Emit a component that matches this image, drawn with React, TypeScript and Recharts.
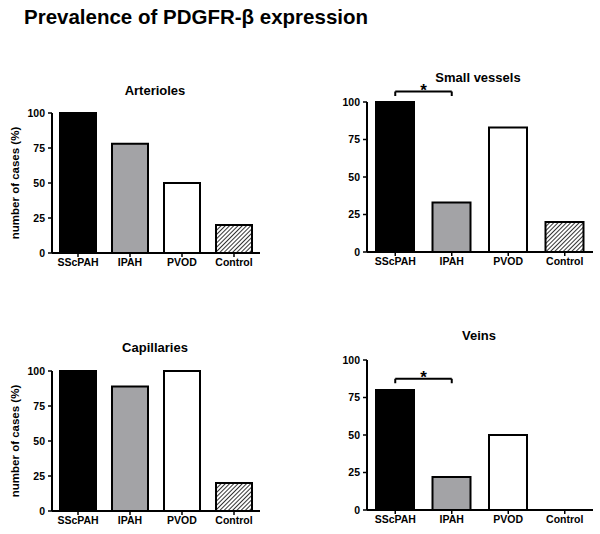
import { BarChart, Bar, Cell, XAxis, YAxis, ReferenceLine } from 'recharts'

// groups on the x axis
const groups = ['SScPAH', 'IPAH', 'PVOD', 'Control']
const yTicks = [0, 25, 50, 75, 100]

// % of cases per vessel type
const arterioles = [100, 78, 50, 20]
const smallVessels = [100, 33, 83, 20]
const capillaries = [100, 89, 100, 20]
const veins = [80, 22, 50, 0]

// significance brackets (SScPAH vs IPAH)
const smallVesselsBracket = { from: 'SScPAH', to: 'IPAH', y: 107, drop: 3 }
const veinsBracket = { from: 'SScPAH', to: 'IPAH', y: 87.5, drop: 3 }

const font = '"Liberation Sans", Arial, Helvetica, sans-serif'
const fills = ['#000000', '#a3a3a6', '#ffffff']

type Bracket = { from: string; to: string; y: number; drop: number }

type PanelProps = {
  id: string
  title: string
  values: number[]
  left: number
  top: number
  plotTop: number
  plotHeight: number
  axisWidth: number
  rightGap: number
  barSize: number
  titleX: number
  titleY: number
  yLabel?: boolean
  bracket?: Bracket
}

function Panel(p: PanelProps) {
  const width = 300
  const height = 216
  const data = groups.map((g, i) => ({ name: g, value: p.values[i] }))
  const xAxisHeight = height - p.plotTop - p.plotHeight
  const hatchId = 'hatch-' + p.id

  return (
    <div style={{ position: 'absolute', left: p.left, top: p.top, width, height }}>
      <div
        style={{
          position: 'absolute',
          left: p.titleX - 100,
          top: p.titleY - 9,
          width: 200,
          textAlign: 'center',
          fontSize: 13,
          fontWeight: 'bold',
          lineHeight: '18px',
        }}
      >
        {p.title}
      </div>
      <BarChart
        width={width}
        height={height}
        data={data}
        margin={{ top: p.plotTop, right: p.rightGap, bottom: 0, left: 0 }}
        style={{ position: 'absolute', left: 0, top: 0, overflow: 'visible' }}
      >
        <defs>
          <pattern id={hatchId} width="3" height="3" patternUnits="userSpaceOnUse" patternTransform="rotate(45)">
            <rect width="3" height="3" fill="#ffffff" />
            <line x1="0" y1="0" x2="0" y2="3" stroke="#000" strokeWidth="1.6" />
          </pattern>
        </defs>
        <XAxis
          dataKey="name"
          height={xAxisHeight}
          interval={0}
          tickSize={4}
          tickMargin={2}
          axisLine={{ stroke: '#000', strokeWidth: 2 }}
          tickLine={{ stroke: '#000', strokeWidth: 1.5 }}
          tick={{ fill: '#000', fontSize: 10.5, fontWeight: 'bold', fontFamily: font }}
        />
        <YAxis
          width={p.axisWidth}
          domain={[0, 100]}
          ticks={yTicks}
          interval={0}
          tickSize={4}
          tickMargin={3}
          axisLine={{ stroke: '#000', strokeWidth: 2 }}
          tickLine={{ stroke: '#000', strokeWidth: 1.5 }}
          tick={{ fill: '#000', fontSize: 10.5, fontWeight: 'bold', fontFamily: font }}
          label={
            p.yLabel
              ? {
                  content: (props: any) => {
                    const vb = props.viewBox || { x: 0, y: 0, height: 0 }
                    const cx = 15
                    const cy = vb.y + vb.height / 2
                    return (
                      <text
                        x={cx}
                        y={cy}
                        transform={`rotate(-90 ${cx} ${cy})`}
                        textAnchor="middle"
                        dominantBaseline="central"
                        fontSize={11.5}
                        fontWeight="bold"
                        fontFamily={font}
                        fill="#000"
                      >
                        number of cases (%)
                      </text>
                    )
                  },
                }
              : undefined
          }
        />
        <Bar dataKey="value" barSize={p.barSize} stroke="#000" strokeWidth={2} isAnimationActive={false}>
          {data.map((d, i) => (
            <Cell key={d.name} fill={i < 3 ? fills[i] : `url(#${hatchId})`} />
          ))}
        </Bar>
        {p.bracket && (
          <ReferenceLine
            segment={[
              { x: p.bracket.from, y: p.bracket.y },
              { x: p.bracket.to, y: p.bracket.y },
            ]}
            stroke="#000"
            strokeWidth={2}
            ifOverflow="visible"
            label={{ value: '*', position: 'top', offset: -4, fontSize: 17, fontWeight: 'bold', fill: '#000', fontFamily: font }}
          />
        )}
        {p.bracket && (
          <ReferenceLine
            segment={[
              { x: p.bracket.from, y: p.bracket.y },
              { x: p.bracket.from, y: p.bracket.y - p.bracket.drop },
            ]}
            stroke="#000"
            strokeWidth={2}
            ifOverflow="visible"
          />
        )}
        {p.bracket && (
          <ReferenceLine
            segment={[
              { x: p.bracket.to, y: p.bracket.y },
              { x: p.bracket.to, y: p.bracket.y - p.bracket.drop },
            ]}
            stroke="#000"
            strokeWidth={2}
            ifOverflow="visible"
          />
        )}
      </BarChart>
    </div>
  )
}

export default function App() {
  return (
    <div
      style={{
        position: 'absolute',
        left: 0,
        top: 0,
        width: 600,
        height: 534,
        background: '#fff',
        fontFamily: font,
        overflow: 'hidden',
      }}
    >
      <div
        style={{
          position: 'absolute',
          left: 24,
          top: 4,
          fontSize: 20.5,
          fontWeight: 'bold',
          lineHeight: '26px',
          whiteSpace: 'nowrap',
        }}
      >
        Prevalence of PDGFR-β expression
      </div>
      <Panel
        id="a"
        title="Arterioles"
        values={arterioles}
        left={0}
        top={60}
        plotTop={53}
        plotHeight={140}
        axisWidth={52}
        rightGap={40}
        barSize={36}
        titleX={155}
        titleY={31}
        yLabel
      />
      <Panel
        id="b"
        title="Small vessels"
        values={smallVessels}
        left={300}
        top={60}
        plotTop={42}
        plotHeight={150}
        axisWidth={67}
        rightGap={7}
        barSize={38}
        titleX={178}
        titleY={18}
        bracket={smallVesselsBracket}
      />
      <Panel
        id="c"
        title="Capillaries"
        values={capillaries}
        left={0}
        top={318}
        plotTop={53}
        plotHeight={140}
        axisWidth={52}
        rightGap={40}
        barSize={36}
        titleX={155}
        titleY={30}
        yLabel
      />
      <Panel
        id="d"
        title="Veins"
        values={veins}
        left={300}
        top={318}
        plotTop={42}
        plotHeight={150}
        axisWidth={67}
        rightGap={7}
        barSize={38}
        titleX={179}
        titleY={18}
        bracket={veinsBracket}
      />
    </div>
  )
}
